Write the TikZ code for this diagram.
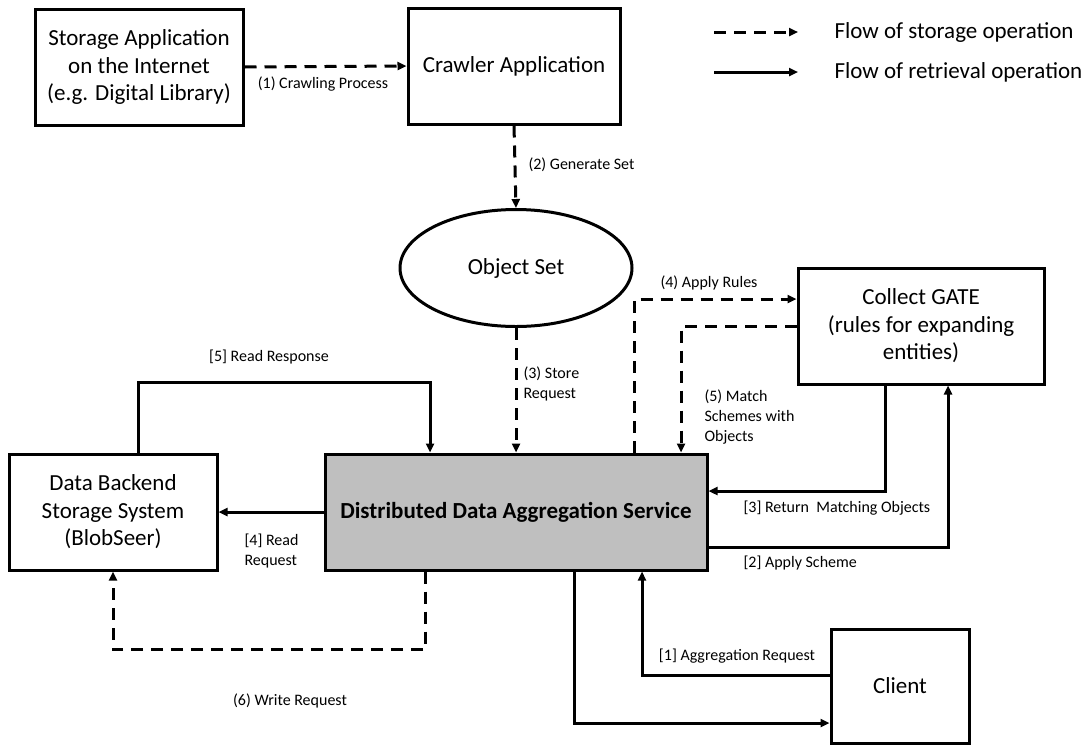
\documentclass[tikz,border=0pt]{standalone}
\usepackage{fontspec}
\setmainfont{Carlito}
\usetikzlibrary{arrows.meta,shapes.geometric}

\begin{document}
\begin{tikzpicture}[x=1pt,y=-1pt,>={Triangle[length=9pt,width=8pt]},line width=3pt,
  box/.style={draw,align=center,inner sep=0pt,font=\fontsize{23}{27.5}\selectfont},
  store/.style={dash pattern=on 12pt off 8pt},
  lbl/.style={inner sep=0pt,align=left,font=\fontsize{16}{20}\selectfont}]
\useasboundingbox (0,0) rectangle (1081,745);
% the parts
\node[box,minimum width=208pt,minimum height=116pt] (web) at (139,67) {Storage Application\\on the Internet\\(e.g. Digital Library)};
\node[box,minimum width=212pt,minimum height=116pt] (crawler) at (514,66) {Crawler Application};
\node[box,ellipse,minimum width=232pt,minimum height=117pt] (objset) at (516,268) {Object Set};
\node[box,minimum width=246pt,minimum height=116pt] (gate) at (921,326) {Collect GATE\\(rules for expanding\\entities)};
\node[box,minimum width=208pt,minimum height=116pt] (backend) at (113,512) {Data Backend\\Storage System\\(BlobSeer)};
\node[box,fill=black!25,minimum width=382pt,minimum height=116pt,font=\fontsize{23}{27.5}\selectfont\bfseries] (dda) at (516,512) {Distributed Data Aggregation Service};
\node[box,minimum width=138pt,minimum height=114pt] (client) at (900,686) {Client};
% storage flow
\draw[store,->] (web.east)--(crawler.west);
\node[lbl] (l1) at (323,84) {(1) Crawling Process};
\draw[store,->] (crawler.south)--(objset.north);
\node[lbl,anchor=west] (l2) at (527,165) {(2) Generate Set};
\draw[store,->] (objset.south)--(dda.north);
\node[lbl,anchor=north west] (l3) at (522,365) {(3) Store\\Request};
\draw[store,->] ([xshift=118pt]dda.north) |- ([yshift=27pt]gate.west);
\node[lbl] (l4) at (709,283) {(4) Apply Rules};
\draw[store,->] (gate.west) -| ([xshift=165pt]dda.north);
\node[lbl,anchor=north west] (l5) at (703,388) {(5) Match\\Schemes with\\Objects};
\draw[store,->] ([xshift=-91pt]dda.south) -- ++(0,-78pt) -| (backend.south);
\node[lbl] (l6) at (290,701) {(6) Write Request};
% retrieval flow
\draw[->] ([yshift=11pt]client.west) -| ([xshift=126pt]dda.south);
\node[lbl] (r1) at (737,656) {[1] Aggregation Request};
\draw[->] ([yshift=-35pt]dda.east) -| ([xshift=27pt]gate.south);
\node[lbl,anchor=west] (r2) at (742,563) {[2] Apply Scheme};
\draw[->] ([xshift=-36pt]gate.south) |- ([yshift=21pt]dda.east);
\node[lbl,anchor=west] (r3) at (742,508) {[3] Return\ \ Matching Objects};
\draw[->] (dda.west)--(backend.east);
\node[lbl,anchor=north west] (r4) at (243,532) {[4] Read\\Request};
\draw[->] ([xshift=25pt]backend.north) -- ++(0,70pt) -| ([xshift=-86pt]dda.north);
\node[lbl] (r5) at (269,357) {[5] Read Response};
\draw[->] ([xshift=58pt]dda.south) |- ([yshift=-37pt]client.west);
% legend
\coordinate (ks0) at (714,32);
\coordinate (ks1) at (798,32);
\coordinate (kr0) at (714,72);
\coordinate (kr1) at (798,72);
\draw[store,->] (ks0)--(ks1);
\draw[->] (kr0)--(kr1);
\node[box,draw=none,anchor=west] (kstore) at (833,32) {Flow of storage operation};
\node[box,draw=none,anchor=west] (kretr) at (833,72) {Flow of retrieval operation};
\end{tikzpicture}
\end{document}
